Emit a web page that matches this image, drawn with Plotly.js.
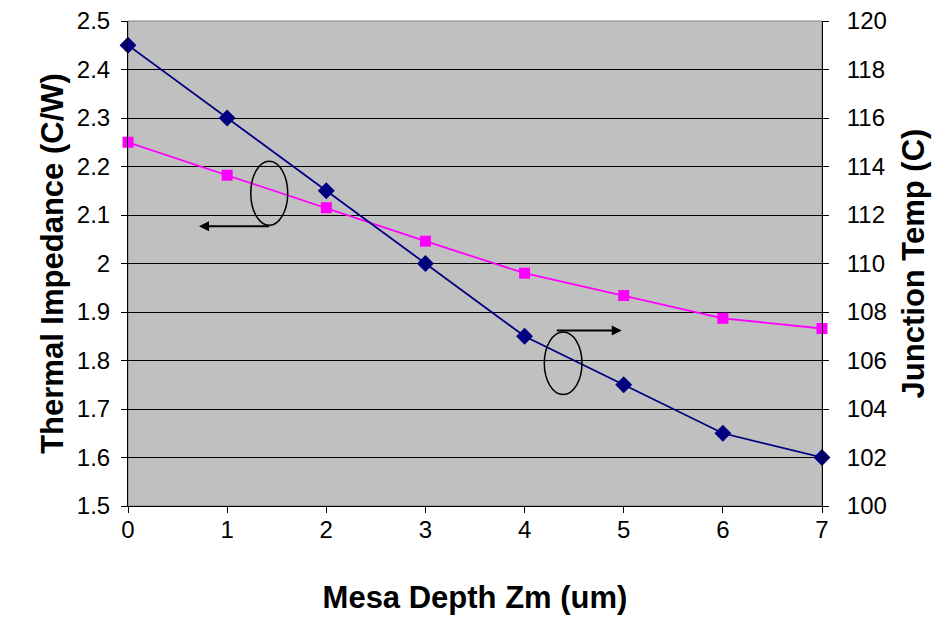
<!DOCTYPE html>
<html>
<head>
<meta charset="utf-8">
<script src="https://cdn.plot.ly/plotly-3.0.1.min.js"></script>
<style>html,body{margin:0;padding:0;background:#fff;}#chart{width:940px;height:618px;}</style>
</head>
<body>
<div id="chart"></div>
<script>
const depth = [0, 1, 2, 3, 4, 5, 6, 7];
const thermalImpedance = [2.25, 2.182, 2.115, 2.046, 1.98, 1.934, 1.887, 1.866];
const junctionTemp = [119, 116, 113, 110, 107, 105, 103, 102];
const xTitle = "Mesa Depth Zm (um)";
const yTitle = "Thermal Impedance (C/W)";
const y2Title = "Junction Temp (C)";

const font = "Liberation Sans, Arial, sans-serif";

const traces = [
  {
    x: depth, y: junctionTemp, yaxis: "y2", type: "scatter", mode: "lines+markers",
    line: {color: "#000080", width: 1.8},
    marker: {symbol: "diamond", size: 13, color: "#000080"},
    cliponaxis: false, showlegend: false
  },
  {
    x: depth, y: thermalImpedance, type: "scatter", mode: "lines+markers",
    line: {color: "#FF00FF", width: 1.8},
    marker: {symbol: "square", size: 11, color: "#FF00FF"},
    cliponaxis: false, showlegend: false
  }
];

const layout = {
  width: 940, height: 618,
  margin: {l: 128, r: 118, t: 21, b: 112},
  paper_bgcolor: "#ffffff",
  plot_bgcolor: "#C0C0C0",
  font: {family: font, color: "#000"},
  xaxis: {
    range: [0, 7], tickvals: depth, ticktext: depth.map(String),
    showgrid: false, zeroline: false,
    showline: true, linecolor: "#000", linewidth: 1,
    ticks: "outside", ticklen: 6, tickcolor: "#000", ticklabelstandoff: -4,
    tickfont: {size: 24, family: font},
    title: {text: xTitle, font: {size: 31, family: font, weight: "bold"}, standoff: 44}
  },
  yaxis: {
    range: [1.5, 2.5], dtick: 0.1, tick0: 1.5,
    showgrid: true, gridcolor: "#000", gridwidth: 1, zeroline: false,
    showline: true, linecolor: "#000", linewidth: 1,
    ticks: "outside", ticklen: 6, tickcolor: "#000", ticklabelstandoff: 6,
    tickfont: {size: 24, family: font},
    title: {text: yTitle, font: {size: 31, family: font, weight: "bold"}, standoff: 3}
  },
  yaxis2: {
    range: [100, 120], dtick: 2, tick0: 100, overlaying: "y", side: "right",
    showgrid: false, zeroline: false,
    showline: true, linecolor: "#000", linewidth: 1,
    ticks: "outside", ticklen: 6, tickcolor: "#000", ticklabelstandoff: 13,
    tickfont: {size: 24, family: font},
    title: {text: y2Title, font: {size: 31, family: font, weight: "bold"}, standoff: 16}
  },
  shapes: [
    {type: "rect", xref: "paper", yref: "paper", x0: 0, x1: 1, y0: 0, y1: 1,
     line: {color: "#808080", width: 1}, layer: "below"},
    {type: "circle", xref: "x", yref: "y", x0: 1.238, x1: 1.611, y0: 2.079, y1: 2.211,
     line: {color: "#000", width: 1.5}},
    {type: "circle", xref: "x", yref: "y", x0: 4.199, x1: 4.579, y0: 1.730, y1: 1.859,
     line: {color: "#000", width: 1.5}}
  ],
  annotations: [
    {xref: "x", yref: "y", axref: "x", ayref: "y", x: 0.716, y: 2.077, ax: 1.44, ay: 2.077,
     text: "", showarrow: true, arrowhead: 2, arrowsize: 1, arrowwidth: 2, arrowcolor: "#000"},
    {xref: "x", yref: "y", axref: "x", ayref: "y", x: 4.98, y: 1.862, ax: 4.31, ay: 1.862,
     text: "", showarrow: true, arrowhead: 2, arrowsize: 1, arrowwidth: 2, arrowcolor: "#000"}
  ]
};

Plotly.newPlot("chart", traces, layout, {staticPlot: true, displayModeBar: false});
</script>
</body>
</html>
